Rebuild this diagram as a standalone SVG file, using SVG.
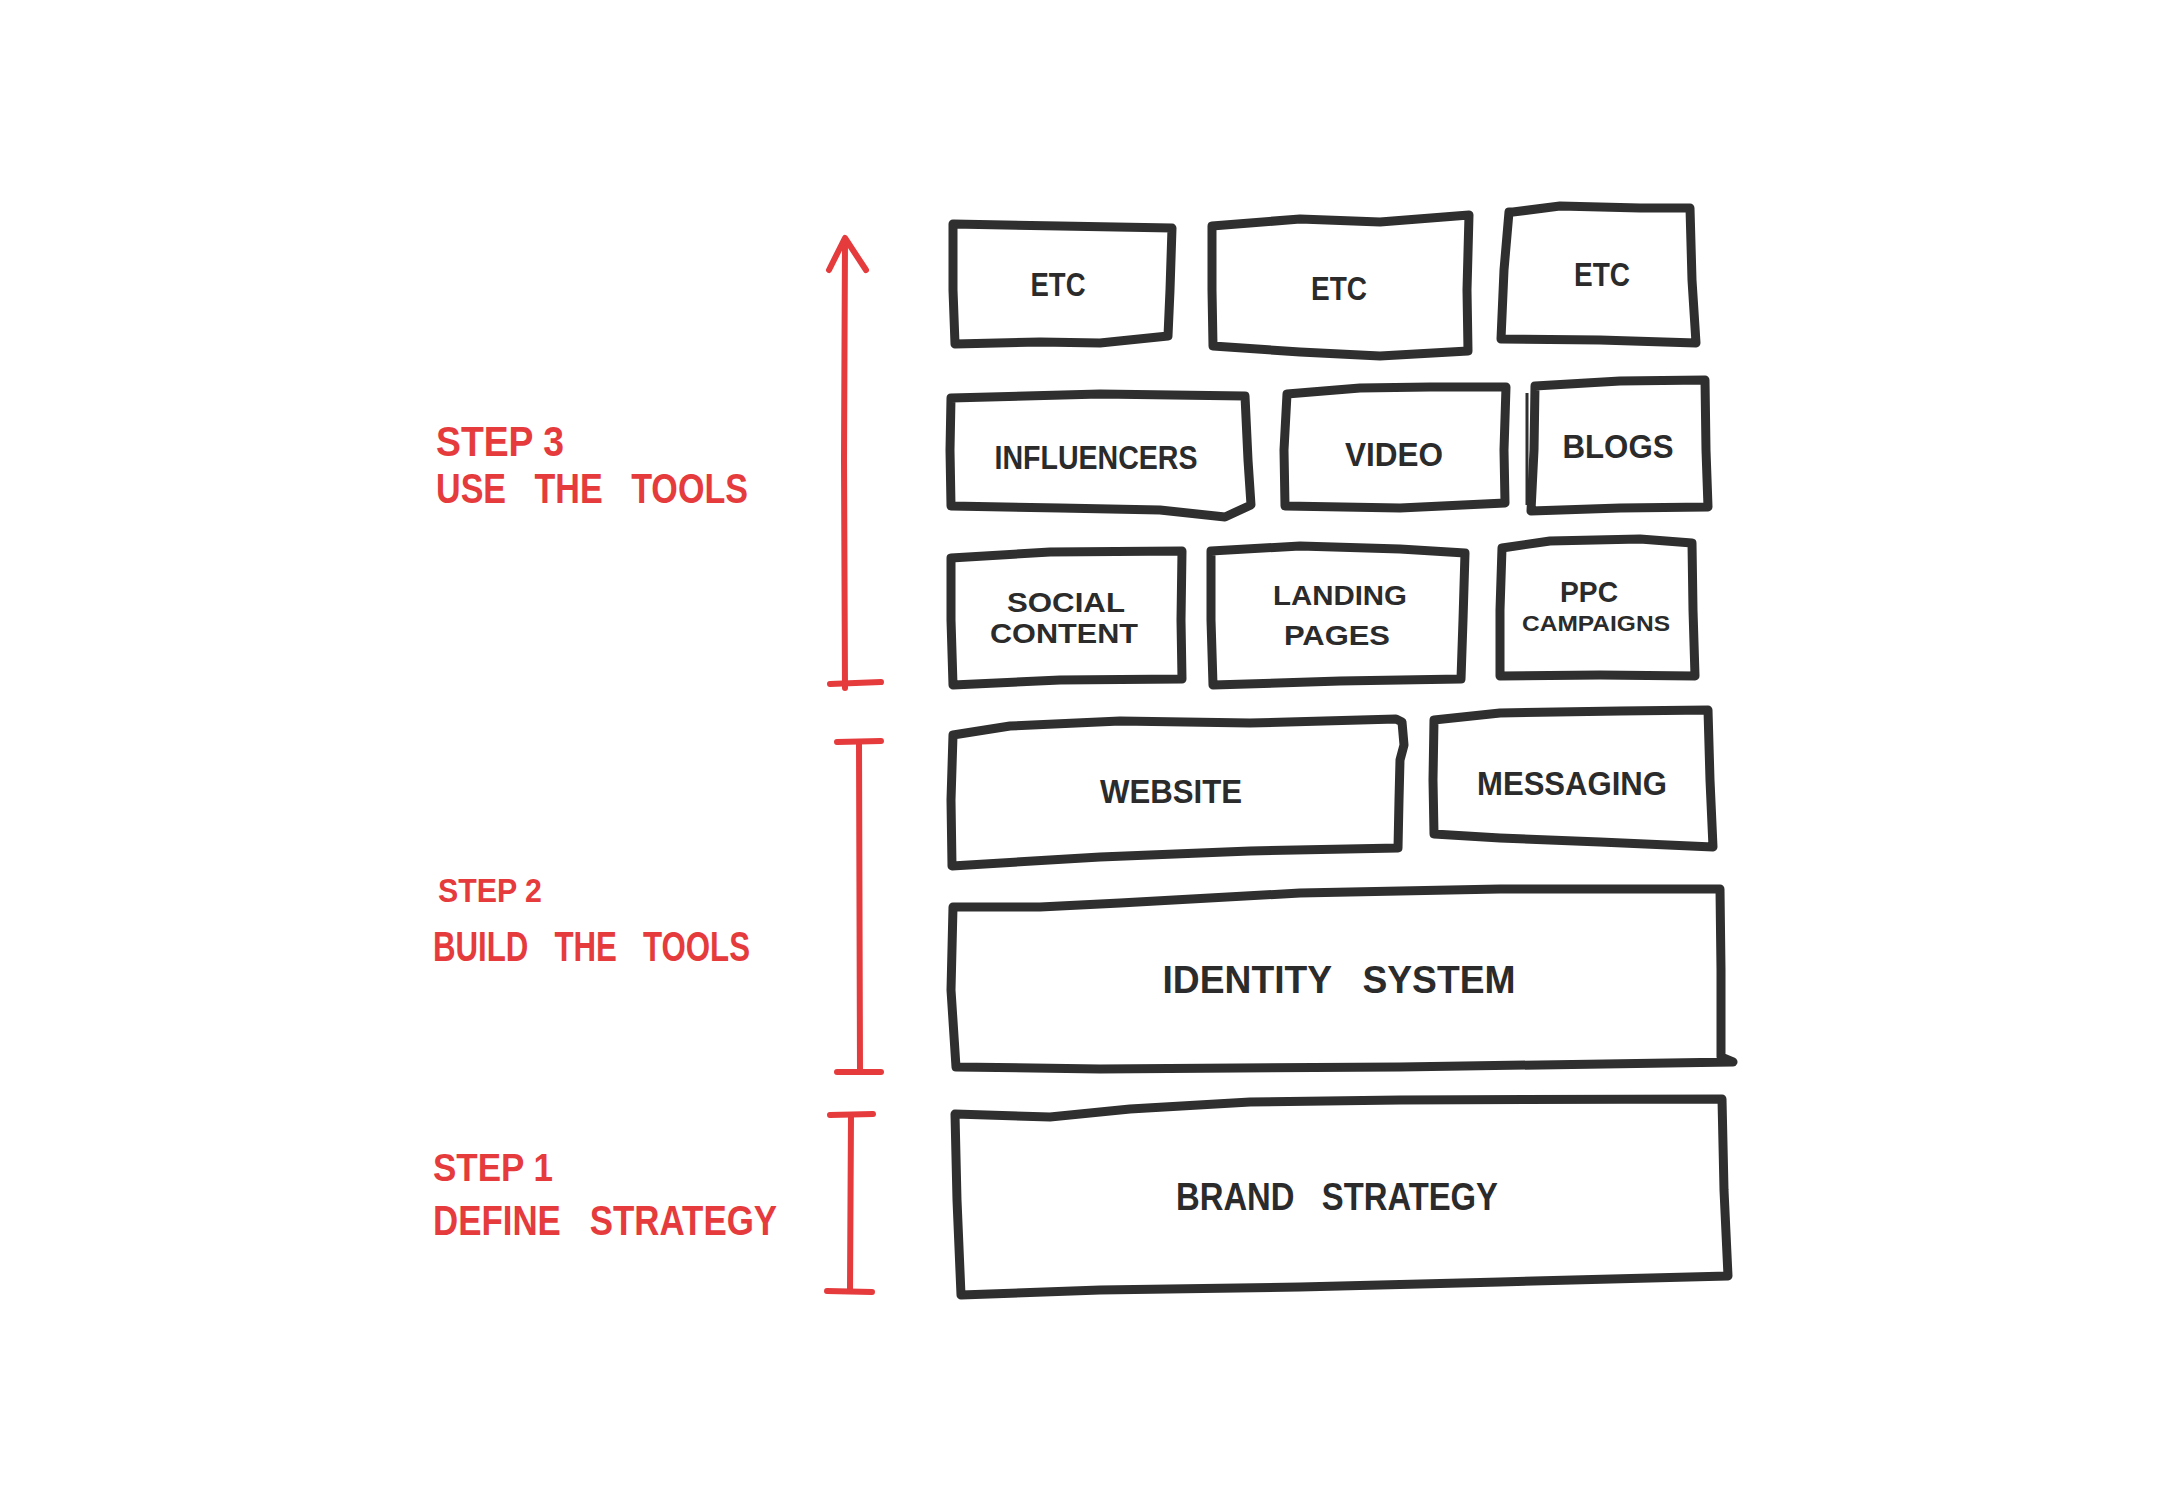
<svg xmlns="http://www.w3.org/2000/svg" width="2169" height="1500" viewBox="0 0 2169 1500">
<style>
.box{fill:none;stroke:#2f2f2f;stroke-width:9;stroke-linejoin:round;stroke-linecap:round}
.lbl{font-family:"Liberation Sans",Arial,sans-serif;font-weight:bold;fill:#2b2b2b;text-anchor:middle;white-space:pre}
.red{fill:none;stroke:#e53b3d;stroke-width:6;stroke-linecap:round;stroke-linejoin:round}
.rt{font-family:"Liberation Sans",Arial,sans-serif;font-weight:bold;fill:#e53b3d;white-space:pre}
</style>
<rect width="2169" height="1500" fill="#ffffff"/>
<g id="connectors">
<g id="arrow-step3">
<path class="red" d="M845,688 L844,460 L845,240"/>
<path class="red" d="M829,270 L845,238 L866,270"/>
<path class="red" d="M830,684 L881,682"/>
</g>
<g id="bracket-step2">
<path class="red" d="M859,742 L860,1071"/>
<path class="red" d="M837,742 L881,741"/>
<path class="red" d="M837,1072 L881,1072"/>
</g>
<g id="bracket-step1">
<path class="red" d="M851,1115 L850,1291"/>
<path class="red" d="M830,1115 L873,1114"/>
<path class="red" d="M827,1291 L872,1292"/>
</g>
</g>
<g id="labels-steps">
<text class="rt" x="436" y="456" font-size="42" textLength="128" lengthAdjust="spacingAndGlyphs">STEP 3</text>
<text class="rt" x="436" y="503" font-size="42" textLength="312" lengthAdjust="spacingAndGlyphs" xml:space="preserve">USE   THE   TOOLS</text>
<text class="rt" x="438" y="902" font-size="34" textLength="104" lengthAdjust="spacingAndGlyphs">STEP 2</text>
<text class="rt" x="433" y="961" font-size="42" textLength="317" lengthAdjust="spacingAndGlyphs" xml:space="preserve">BUILD   THE   TOOLS</text>
<text class="rt" x="433" y="1181" font-size="38" textLength="120" lengthAdjust="spacingAndGlyphs">STEP 1</text>
<text class="rt" x="433" y="1235" font-size="42" textLength="344" lengthAdjust="spacingAndGlyphs" xml:space="preserve">DEFINE   STRATEGY</text>
</g>
<g id="node-etc1">
<path class="box" d="M953,224 L1060,226 L1172,228 L1170,290 L1168,336 L1100,343 L1040,342 L955,344 L953,290 Z"/>
<text class="lbl" x="1058" y="296" font-size="34" textLength="55" lengthAdjust="spacingAndGlyphs">ETC</text>
</g>
<g id="node-etc2">
<path class="box" d="M1212,226 L1300,219 L1380,222 L1469,215 L1467,290 L1468,351 L1380,356 L1300,352 L1213,346 L1212,290 Z"/>
<text class="lbl" x="1339" y="300" font-size="34" textLength="56" lengthAdjust="spacingAndGlyphs">ETC</text>
</g>
<g id="node-etc3">
<path class="box" d="M1513,212 L1560,206 L1640,208 L1690,208 L1692,280 L1696,343 L1600,340 L1501,339 L1504,270 L1509,212 Z"/>
<text class="lbl" x="1602" y="286" font-size="34" textLength="56" lengthAdjust="spacingAndGlyphs">ETC</text>
</g>
<g id="node-influencers">
<path class="box" d="M951,398 L1100,394 L1245,396 L1248,460 L1251,505 L1225,517 L1160,510 L1060,508 L951,506 L950,450 Z"/>
<text class="lbl" x="1096" y="469" font-size="34" textLength="203" lengthAdjust="spacingAndGlyphs">INFLUENCERS</text>
</g>
<g id="node-video">
<path class="box" d="M1287,394 L1360,388 L1430,387 L1506,387 L1504,450 L1505,503 L1400,508 L1285,506 L1284,450 Z"/>
<text class="lbl" x="1394" y="466" font-size="34" textLength="98" lengthAdjust="spacingAndGlyphs">VIDEO</text>
</g>
<g id="node-blogs">
<path class="box" d="M1535,386 L1620,381 L1705,380 L1706,450 L1708,507 L1620,508 L1531,511 L1534,450 Z"/>
<path d="M1527,393 L1527,505" stroke="#2f2f2f" stroke-width="3" fill="none"/>
<text class="lbl" x="1618" y="458" font-size="34" textLength="111" lengthAdjust="spacingAndGlyphs">BLOGS</text>
</g>
<g id="node-social-content">
<path class="box" d="M951,558 L1050,552 L1182,551 L1181,620 L1182,679 L1060,680 L953,685 L951,620 Z"/>
<text class="lbl" x="1066" y="612" font-size="27" textLength="118" lengthAdjust="spacingAndGlyphs">SOCIAL</text>
<text class="lbl" x="1064" y="643" font-size="27" textLength="148" lengthAdjust="spacingAndGlyphs">CONTENT</text>
</g>
<g id="node-landing-pages">
<path class="box" d="M1211,551 L1300,546 L1400,549 L1465,553 L1463,620 L1461,679 L1340,681 L1213,685 L1211,620 Z"/>
<text class="lbl" x="1340" y="605" font-size="28" textLength="134" lengthAdjust="spacingAndGlyphs">LANDING</text>
<text class="lbl" x="1337" y="645" font-size="28" textLength="106" lengthAdjust="spacingAndGlyphs">PAGES</text>
</g>
<g id="node-ppc-campaigns">
<path class="box" d="M1502,548 L1550,541 L1640,539 L1692,543 L1693,610 L1695,676 L1600,675 L1500,676 L1500,610 Z"/>
<text class="lbl" x="1589" y="602" font-size="30" textLength="58" lengthAdjust="spacingAndGlyphs">PPC</text>
<text class="lbl" x="1596" y="631" font-size="22" textLength="148" lengthAdjust="spacingAndGlyphs">CAMPAIGNS</text>
</g>
<g id="node-website">
<path class="box" d="M953,735 L1010,726 L1120,721 L1250,723 L1396,719 L1402,722 L1404,745 L1400,760 L1399,800 L1398,848 L1250,851 L1100,857 L952,866 L951,800 Z"/>
<text class="lbl" x="1171" y="803" font-size="34" textLength="142" lengthAdjust="spacingAndGlyphs">WEBSITE</text>
</g>
<g id="node-messaging">
<path class="box" d="M1434,720 L1500,713 L1620,711 L1708,710 L1710,780 L1713,847 L1600,842 L1500,838 L1434,834 L1433,780 Z"/>
<text class="lbl" x="1572" y="795" font-size="34" textLength="190" lengthAdjust="spacingAndGlyphs">MESSAGING</text>
</g>
<g id="node-identity-system">
<path class="box" d="M953,907 L1040,907 L1120,903 L1300,893 L1500,889 L1720,889 L1721,970 L1721,1057 L1733,1062 L1400,1067 L1100,1069 L956,1067 L951,990 Z"/>
<text class="lbl" x="1339" y="993" font-size="38" textLength="353" lengthAdjust="spacingAndGlyphs" xml:space="preserve">IDENTITY   SYSTEM</text>
</g>
<g id="node-brand-strategy">
<path class="box" d="M955,1114 L1050,1117 L1130,1109 L1250,1102 L1400,1100 L1722,1099 L1724,1190 L1728,1276 L1500,1282 L1300,1287 L1100,1290 L961,1295 L957,1200 Z"/>
<text class="lbl" x="1337" y="1210" font-size="38" textLength="322" lengthAdjust="spacingAndGlyphs" xml:space="preserve">BRAND   STRATEGY</text>
</g>
</svg>
